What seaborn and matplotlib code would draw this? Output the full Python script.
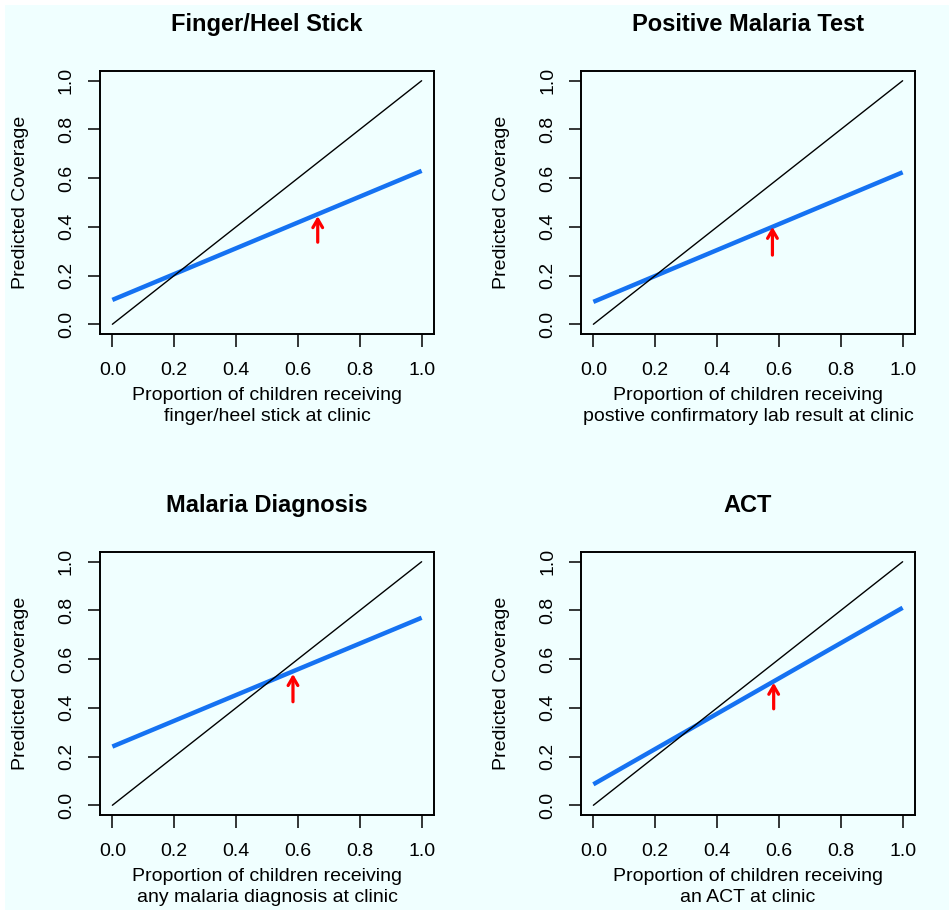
import matplotlib
matplotlib.use("Agg")
import matplotlib.pyplot as plt
import seaborn as sns
import pandas as pd
from matplotlib.patches import Rectangle

# ---- data ----
titles = ["Finger/Heel Stick", "Positive Malaria Test", "Malaria Diagnosis", "ACT"]
xlabels = [
    "Proportion of children receiving\nfinger/heel stick at clinic",
    "Proportion of children receiving\npostive confirmatory lab result at clinic",
    "Proportion of children receiving\nany malaria diagnosis at clinic",
    "Proportion of children receiving\nan ACT at clinic",
]
ylabel = "Predicted Coverage"
line_x = [0.0, 1.0]
diag_y = [0.0, 1.0]
pred_y0 = [0.100, 0.092, 0.241, 0.086]
pred_y1 = [0.630, 0.624, 0.770, 0.811]
arrow_x = [0.664, 0.579, 0.584, 0.583]
arrow_tip = [0.444, 0.400, 0.539, 0.503]
arrow_tail = [0.337, 0.284, 0.425, 0.396]
ticks = [0.0, 0.2, 0.4, 0.6, 0.8, 1.0]
tick_labels = ["0.0", "0.2", "0.4", "0.6", "0.8", "1.0"]

sns.set_style("ticks")
plt.rcParams["font.family"] = ["Liberation Sans", "DejaVu Sans"]
plt.rcParams["text.color"] = "black"
plt.rcParams["axes.labelcolor"] = "black"

BG = "#F0FFFF"
BLUE = "#1572F2"

fig = plt.figure(figsize=(9.49, 9.10), dpi=100)
fig.patch.set_facecolor("white")
fig.patches.append(Rectangle((5 / 949, 0), 1, 1 - 5 / 910, transform=fig.transFigure,
                             facecolor=BG, edgecolor="none", zorder=-10))

W, H = 949, 910
boxes = [(100, 71), (581, 71), (100, 552), (581, 552)]  # left, top in px
bw, bh = 334, 263

for i in range(4):
    l, t = boxes[i]
    ax = fig.add_axes([l / W, 1 - (t + bh) / H, bw / W, bh / H])
    ax.set_facecolor(BG)
    df_pred = pd.DataFrame({"x": line_x, "y": [pred_y0[i], pred_y1[i]]})
    df_diag = pd.DataFrame({"x": line_x, "y": diag_y})
    sns.lineplot(data=df_pred, x="x", y="y", ax=ax, color=BLUE, linewidth=3.2,
                 solid_capstyle="butt")
    sns.lineplot(data=df_diag, x="x", y="y", ax=ax, color="black", linewidth=1.0)
    ax.annotate("", xy=(arrow_x[i], arrow_tip[i]), xytext=(arrow_x[i], arrow_tail[i]),
                arrowprops=dict(arrowstyle="->,head_length=0.6,head_width=0.35",
                                color="red", lw=2.3, shrinkA=0, shrinkB=0))
    ax.set_xlim(-0.04, 1.04)
    ax.set_ylim(-0.04, 1.04)
    ax.set_xticks(ticks)
    ax.set_xticklabels(tick_labels)
    ax.set_yticks(ticks)
    ax.set_yticklabels(tick_labels, rotation=90, va="center")
    ax.tick_params(axis="both", length=9, width=1.1, color="black",
                   labelsize=14, labelcolor="black")
    ax.tick_params(axis="x", pad=11)
    ax.tick_params(axis="y", pad=9)
    for s in ax.spines.values():
        s.set_visible(True)
        s.set_linewidth(1.4)
        s.set_color("black")
    ax.set_title(titles[i], fontsize=17, fontweight="bold", pad=28.5, color="black")
    ax.set_xlabel(xlabels[i], fontsize=14, linespacing=1.35, color="black")
    ax.xaxis.set_label_coords(0.5, -0.2)
    ax.xaxis.label.set_va("top")
    ax.set_ylabel(ylabel, fontsize=14, color="black")
    ax.yaxis.set_label_coords(-0.213, 0.5)

fig.savefig("out.png", dpi=100, facecolor=fig.get_facecolor())
